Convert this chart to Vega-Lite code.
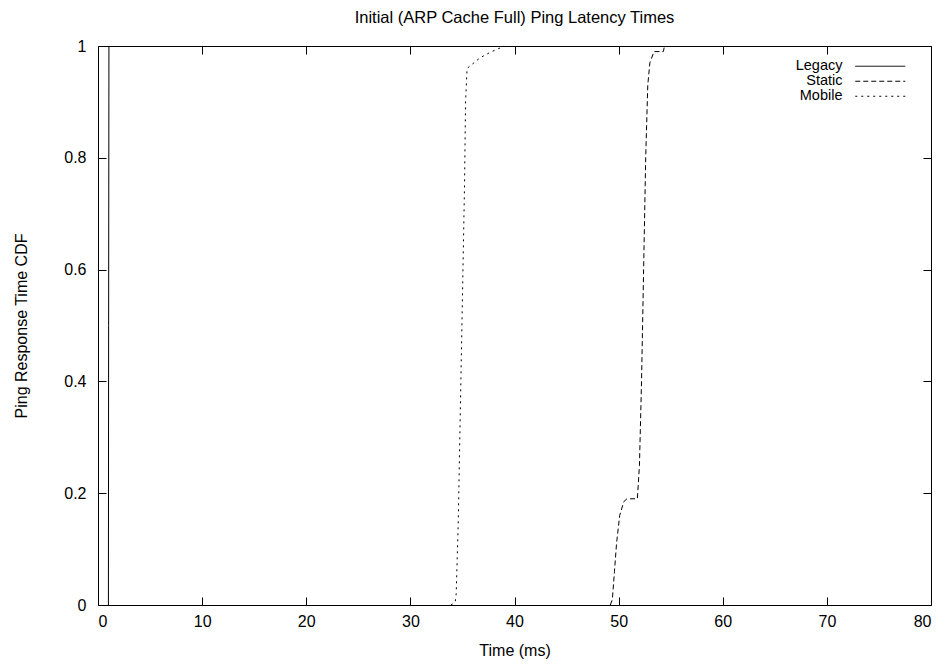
{
  "$schema": "https://vega.github.io/schema/vega-lite/v6.json",
  "width": 833,
  "height": 559,
  "autosize": {"type": "none"},
  "padding": {"left": 98, "top": 46, "right": 17, "bottom": 66},
  "background": "white",
  "title": {"text": "Initial (ARP Cache Full) Ping Latency Times", "font": "Liberation Sans", "fontSize": 16.5, "fontWeight": "normal", "color": "black", "offset": 12},
  "config": {
    "view": {"stroke": "black", "strokeWidth": 1},
    "axis": {"grid": false, "domain": false, "tickColor": "black", "tickSize": -8, "labelFont": "Liberation Sans", "labelFontSize": 16, "labelColor": "black", "titleFont": "Liberation Sans", "titleFontSize": 16, "titleFontWeight": "normal", "titleColor": "black"},
    "legend": {"labelFont": "Liberation Sans", "labelFontSize": 14.5, "labelColor": "black"}
  },
  "data": {"values": [
    {"s": "Legacy", "x": 1.0, "y": 0},
    {"s": "Legacy", "x": 1.02, "y": 0.5},
    {"s": "Legacy", "x": 1.05, "y": 1.0},
    {"s": "Static", "x": 49.2, "y": 0},
    {"s": "Static", "x": 49.4, "y": 0.01},
    {"s": "Static", "x": 49.6, "y": 0.06},
    {"s": "Static", "x": 49.8, "y": 0.11},
    {"s": "Static", "x": 50.1, "y": 0.16},
    {"s": "Static", "x": 50.5, "y": 0.185},
    {"s": "Static", "x": 50.8, "y": 0.19},
    {"s": "Static", "x": 51.8, "y": 0.19},
    {"s": "Static", "x": 52.0, "y": 0.25},
    {"s": "Static", "x": 52.2, "y": 0.4},
    {"s": "Static", "x": 52.4, "y": 0.6},
    {"s": "Static", "x": 52.6, "y": 0.8},
    {"s": "Static", "x": 52.8, "y": 0.93},
    {"s": "Static", "x": 53.0, "y": 0.97},
    {"s": "Static", "x": 53.4, "y": 0.99},
    {"s": "Static", "x": 54.3, "y": 0.99},
    {"s": "Static", "x": 54.4, "y": 1.0},
    {"s": "Mobile", "x": 33.9, "y": 0},
    {"s": "Mobile", "x": 34.3, "y": 0.005},
    {"s": "Mobile", "x": 34.4, "y": 0.02},
    {"s": "Mobile", "x": 34.6, "y": 0.15},
    {"s": "Mobile", "x": 34.8, "y": 0.35},
    {"s": "Mobile", "x": 35.0, "y": 0.55},
    {"s": "Mobile", "x": 35.2, "y": 0.75},
    {"s": "Mobile", "x": 35.3, "y": 0.9},
    {"s": "Mobile", "x": 35.45, "y": 0.96},
    {"s": "Mobile", "x": 36.7, "y": 0.979},
    {"s": "Mobile", "x": 37.7, "y": 0.989},
    {"s": "Mobile", "x": 38.8, "y": 0.998},
    {"s": "Mobile", "x": 39.0, "y": 1.0}
  ]},
  "layer": [
    {
      "mark": {"type": "line", "color": "black", "strokeWidth": 1},
      "encoding": {
        "x": {"field": "x", "type": "quantitative", "scale": {"domain": [0, 80], "nice": false}, "axis": {"title": "Time (ms)", "values": [0,10,20,30,40,50,60,70,80], "labelPadding": 16, "titlePadding": 13}},
        "y": {"field": "y", "type": "quantitative", "scale": {"domain": [0, 1], "nice": false}, "axis": {"title": "Ping Response Time CDF", "format": "~g", "values": [0,0.2,0.4,0.6,0.8,1], "labelPadding": 20, "titlePadding": 34}},
        "strokeDash": {"field": "s", "type": "nominal", "scale": {"domain": ["Legacy", "Static", "Mobile"], "range": [[1, 0], [5, 3], [2, 4]]}, "legend": {"title": null, "orient": "none", "legendX": 775, "legendY": 13, "symbolType": "M-5,0H5", "symbolSize": 100, "symbolStrokeColor": "black", "symbolFillColor": "transparent", "symbolStrokeWidth": 1, "symbolOpacity": 1, "labelAlign": "right", "symbolOffset": 0, "labelOffset": -45, "rowPadding": 0, "padding": 0}},
        "detail": {"field": "s"},
        "order": {"field": "y", "type": "quantitative"}
      }
    },
    {
      "mark": {"type": "line", "strokeOpacity": 0},
      "encoding": {
        "x": {"field": "x", "type": "quantitative", "axis": {"orient": "top", "title": null, "labels": false, "values": [0,10,20,30,40,50,60,70,80]}},
        "y": {"field": "y", "type": "quantitative", "axis": {"orient": "right", "title": null, "labels": false, "values": [0,0.2,0.4,0.6,0.8,1]}},
        "detail": {"field": "s"}
      }
    }
  ],
  "resolve": {"axis": {"x": "independent", "y": "independent"}}
}
